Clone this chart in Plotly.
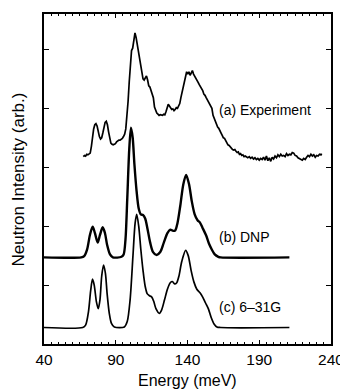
import plotly.graph_objects as go

# ---- Data ----
exp_energy = [67.4, 68.2, 69.0, 69.8, 70.6, 71.4, 72.2, 73.0, 73.8, 74.6, 75.4, 76.2, 77.0, 77.8, 78.6,
              79.4, 80.2, 81.0, 81.8, 82.6, 83.4, 84.2, 85.0, 85.8, 86.6, 87.4, 88.2, 89.0, 89.8, 90.6,
              91.4, 92.2, 93.0, 93.8, 94.6, 95.4, 96.2, 97.0, 97.8, 98.6, 99.4, 100.2, 101.0, 101.8,
              102.6, 103.4, 104.2, 105.0, 105.8, 106.6, 107.4, 108.2, 109.0, 109.8, 110.6, 111.4,
              112.2, 113.0, 113.8, 114.6, 115.4, 116.2, 117.0, 117.8, 118.6, 119.4, 120.2, 121.0,
              121.8, 122.6, 123.4, 124.2, 125.0, 125.8, 126.6, 127.4, 128.2, 129.0, 129.8, 130.6,
              131.4, 132.2, 133.0, 133.8, 134.6, 135.4, 136.2, 137.0, 137.8, 138.6, 139.4, 140.2,
              141.0, 141.8, 142.6, 143.4, 144.2, 145.0, 145.8, 146.6, 147.4, 148.2, 149.0, 149.8,
              150.6, 151.4, 152.2, 153.0, 153.8, 154.6, 155.4, 156.2, 157.0, 157.8, 158.6, 159.4,
              160.2, 161.0, 161.8, 162.6, 163.4, 164.2, 165.0, 165.8, 166.6, 167.4, 168.2, 169.0,
              169.8, 170.6, 171.4, 172.2, 173.0, 173.8, 174.6, 175.4, 176.2, 177.0, 177.8, 178.6,
              179.4, 180.2, 181.0, 182.0, 183.0, 184.0, 185.0, 186.0, 187.0, 188.0, 189.0, 190.0,
              191.0, 192.0, 193.0, 194.0, 195.0, 196.0, 197.0, 198.0, 199.0, 200.0, 201.0, 202.0,
              203.0, 204.0, 205.0, 206.0, 207.0, 208.0, 209.0, 210.0, 211.0, 212.0, 213.0, 214.0,
              215.0, 216.0, 217.0, 218.0, 219.0, 220.0, 221.0, 222.0, 223.0, 224.0, 225.0, 226.0,
              227.0, 228.0, 229.0, 230.0, 231.0, 232.0, 233.0, 233.5]
exp_intensity = [3.18, 3.20, 3.19, 3.22, 3.21, 3.22, 3.24, 3.35, 3.52, 3.65, 3.72, 3.74, 3.70, 3.60, 3.52,
                 3.48, 3.50, 3.58, 3.68, 3.76, 3.78, 3.72, 3.60, 3.48, 3.41, 3.39, 3.38, 3.39, 3.40, 3.43,
                 3.45, 3.46, 3.46, 3.47, 3.49, 3.52, 3.56, 3.65, 3.85, 4.12, 4.45, 4.78, 4.98, 5.02,
                 5.15, 5.28, 5.20, 5.08, 4.95, 4.80, 4.66, 4.58, 4.50, 4.48, 4.52, 4.55,
                 4.48, 4.38, 4.36, 4.30, 4.22, 4.18, 4.02, 3.96, 3.92, 3.90, 3.88, 3.89,
                 3.88, 3.88, 3.90, 3.89, 3.94, 4.00, 4.07, 4.04, 4.00, 3.98, 3.99, 3.96,
                 3.98, 4.01, 4.00, 4.05, 4.08, 4.18, 4.28, 4.36, 4.45, 4.55, 4.62, 4.58,
                 4.62, 4.56, 4.60, 4.64, 4.58, 4.55, 4.50, 4.47, 4.44, 4.40, 4.37, 4.33,
                 4.30, 4.24, 4.22, 4.18, 4.14, 4.10, 4.06, 4.04, 4.00, 3.88, 3.82, 3.76,
                 3.72, 3.68, 3.66, 3.60, 3.58, 3.54, 3.50, 3.49, 3.45, 3.42, 3.38, 3.37,
                 3.34, 3.33, 3.30, 3.29, 3.30, 3.27, 3.25, 3.26, 3.22, 3.23, 3.20, 3.21,
                 3.18, 3.19, 3.17, 3.16, 3.18, 3.15, 3.17, 3.14, 3.16, 3.13, 3.15, 3.12,
                 3.15, 3.13, 3.17, 3.12, 3.19, 3.11, 3.16, 3.10, 3.17, 3.14, 3.19, 3.16,
                 3.21, 3.18, 3.22, 3.19, 3.20, 3.18, 3.23, 3.20, 3.22, 3.21, 3.25, 3.24,
                 3.20, 3.19, 3.16, 3.15, 3.14, 3.12, 3.15, 3.13, 3.17, 3.20, 3.18, 3.22,
                 3.19, 3.21, 3.17, 3.20, 3.19, 3.22, 3.21, 3.23]

dnp_energy = [40, 66, 68, 70, 72, 73.9, 75.5, 77.4, 79, 80.9, 82.5, 84, 86, 88, 94, 95.5, 96.8, 98,
              99.4, 100.6, 101.8, 103, 104.5, 106, 107.5, 109, 110.5, 112, 114, 116, 118.5, 121,
              123.5, 126, 128, 130, 131.5, 133, 135, 137, 139, 141, 143, 145, 147, 148.7, 150.5,
              153, 155, 157, 159, 161.5, 163, 211]
dnp_intensity = [1.47, 1.47, 1.49, 1.60, 1.85, 1.99, 1.88, 1.72, 1.85, 1.98, 1.88, 1.68, 1.52, 1.47,
                 1.48, 1.52, 1.78, 2.45, 3.30, 3.67, 3.50, 3.05, 2.60, 2.30, 2.20, 2.19, 2.13, 1.97,
                 1.72, 1.56, 1.51, 1.56, 1.72, 1.88, 1.94, 1.92, 1.93, 2.05, 2.35, 2.70, 2.87, 2.72,
                 2.42, 2.20, 2.10, 2.06, 1.97, 1.84, 1.70, 1.60, 1.52, 1.48, 1.47, 1.47]

g631_energy = [40, 67, 69, 71, 72.5, 73.8, 75, 76.5, 77.8, 79, 80.2, 81.5, 82.8, 84, 85.5, 87, 89, 96,
               98, 100, 102, 103.5, 104.6, 106, 107.5, 109, 110.5, 112, 113.5, 115, 116.5, 118,
               120.4, 122, 124, 126, 128, 129.5, 131, 132.5, 134, 136, 138.7, 140.5, 142.5, 144.5,
               146.5, 148.7, 150.5, 152.5, 154.5, 156.5, 158.5, 160.5, 163, 211]
g631_intensity = [0.28, 0.28, 0.32, 0.55, 0.90, 1.10, 1.00, 0.72, 0.60, 0.75, 1.15, 1.34, 1.20, 0.85,
                  0.52, 0.35, 0.29, 0.29, 0.38, 0.75, 1.50, 2.05, 2.20, 2.00, 1.60, 1.25, 0.98, 0.85,
                  0.82, 0.80, 0.72, 0.60, 0.52, 0.58, 0.75, 0.93, 1.04, 1.06, 1.02, 1.04, 1.15, 1.40,
                  1.59, 1.50, 1.25, 1.05, 0.93, 0.87, 0.80, 0.70, 0.60, 0.45, 0.34, 0.29, 0.28, 0.28]

labels = ["(a) Experiment", "(b) DNP", "(c) 6\u201331G"]
label_x = [160.3, 160.3, 160.3]
label_y = [3.97, 1.81, 0.62]

x_ticks = [40, 90, 140, 190, 240]
y_ticks = [1, 2, 3, 4, 5]

FONT = "Liberation Sans, Arial, Helvetica, sans-serif"

fig = go.Figure()
fig.add_trace(go.Scatter(x=exp_energy, y=exp_intensity, mode="lines",
                         line=dict(color="black", width=1.7), showlegend=False))
fig.add_trace(go.Scatter(x=dnp_energy, y=dnp_intensity, mode="lines", line_shape="spline",
                         line=dict(color="black", width=2.4, smoothing=0.8), showlegend=False))
fig.add_trace(go.Scatter(x=g631_energy, y=g631_intensity, mode="lines", line_shape="spline",
                         line=dict(color="black", width=1.7, smoothing=0.8), showlegend=False))

for t, x, y in zip(labels, label_x, label_y):
    fig.add_annotation(x=x, y=y, text=t, showarrow=False, xanchor="left", yanchor="middle",
                       font=dict(family=FONT, size=14, color="black"))

fig.add_annotation(xref="paper", yref="paper", x=0.5, y=-0.11, text="Energy (meV)",
                   showarrow=False, xanchor="center", yanchor="middle",
                   font=dict(family=FONT, size=16, color="black"))
fig.add_annotation(xref="paper", yref="paper", x=-0.089, y=0.5, text="Neutron Intensity (arb.)",
                   showarrow=False, xanchor="center", yanchor="middle", textangle=-90,
                   font=dict(family=FONT, size=17, color="black"))

fig.update_xaxes(range=[40, 240], tickvals=x_ticks, ticks="inside", ticklen=4, tickwidth=1,
                 tickcolor="black", showline=True, linecolor="black", linewidth=1.5, mirror="ticks",
                 showgrid=False, zeroline=False, ticklabelstandoff=1, ticklabeloverflow="allow",
                 tickfont=dict(family=FONT, size=15.5, color="black"),
                 minor=dict(dtick=5, tick0=40, ticks="inside", ticklen=2, tickcolor="black",
                            tickwidth=0.8, showgrid=False))
fig.update_yaxes(range=[0, 5.6], tickvals=y_ticks, ticks="inside", ticklen=5, tickwidth=1,
                 tickcolor="black", showline=True, linecolor="black", linewidth=1.5, mirror="ticks",
                 showgrid=False, zeroline=False, showticklabels=False)

# The page body adds an 8px offset, so the figure is sized to fit the window.
fig.update_layout(width=340, height=384, margin=dict(l=36, r=17, t=5.5, b=48, autoexpand=False),
                  plot_bgcolor="white", paper_bgcolor="white", showlegend=False)

fig.write_html("out.html")
